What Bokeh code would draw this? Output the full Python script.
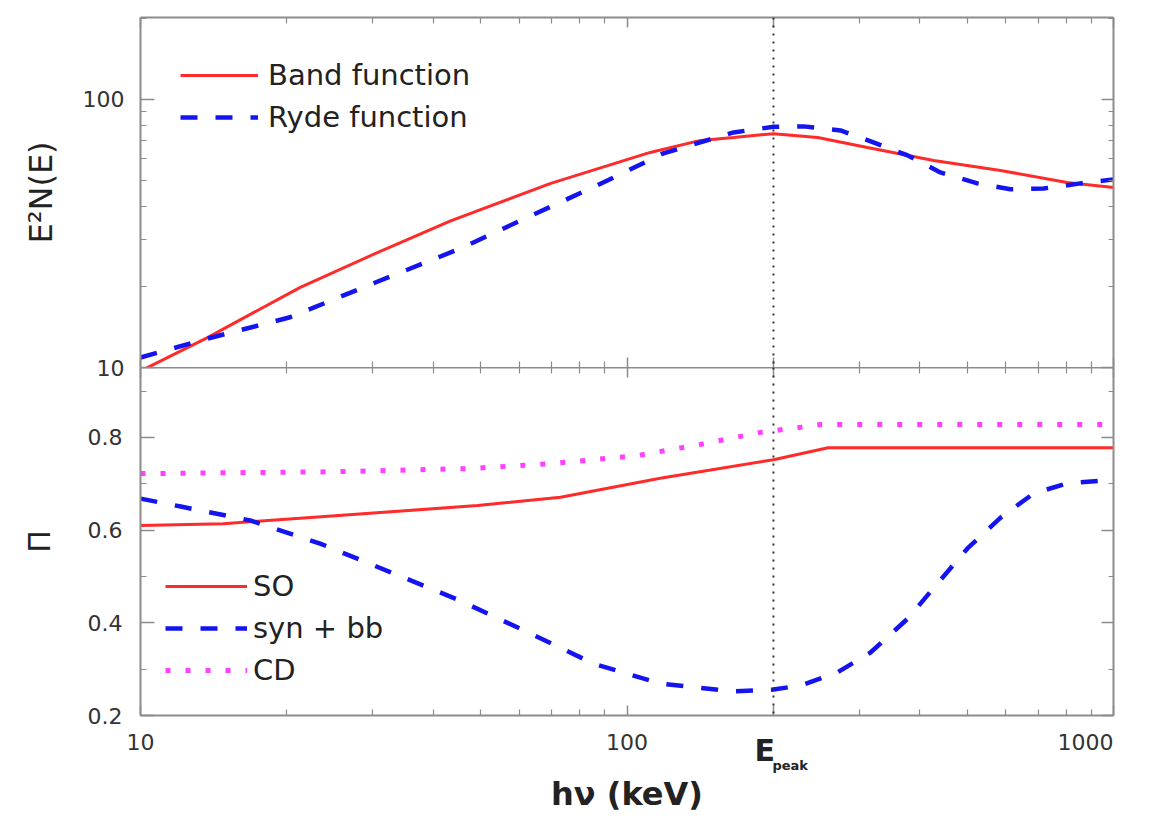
from bokeh.plotting import figure
from bokeh.models import Range1d, FixedTicker, LinearAxis, Span, Legend, LegendItem
from bokeh.core.properties import value
from bokeh.layouts import column
from bokeh.embed import file_html
from bokeh.resources import INLINE

# ---------------- data ----------------
band_x = [10, 13.7, 21.3, 30.1, 43.4, 69.7, 111.6, 141.6, 165.6, 200, 246.6, 312, 427, 586, 803, 1000]
band_y = [9.7, 12.9, 19.9, 26.4, 35.2, 48.6, 63.4, 70.3, 72.1, 74.5, 72.1, 66.2, 59.2, 54.3, 49.0, 46.9]

ryde_x = [10, 13.7, 20.3, 30.1, 45.5, 62.4, 86.9, 118.8, 165.6, 200, 230.7, 274.8, 321, 377.6, 440.6, 525, 614, 718, 855, 1000]
ryde_y = [10.9, 12.8, 15.4, 20.6, 27.8, 36.3, 47.8, 62.9, 75.3, 79.0, 79.3, 76.6, 69.1, 61.8, 53.4, 48.6, 46.2, 46.5, 48.6, 50.3]

so_x = [10, 14.8, 22, 49.3, 73, 117, 200, 259, 1000]
so_y = [0.610, 0.614, 0.627, 0.653, 0.671, 0.712, 0.752, 0.778, 0.778]

synbb_x = [10, 12.1, 16.8, 23.4, 32.7, 44.9, 62.4, 85.3, 117, 165.6, 200, 227.6, 270.8, 316.6, 377.6, 434.7, 501, 586, 684.8, 803, 1000]
synbb_y = [0.668, 0.651, 0.621, 0.571, 0.509, 0.450, 0.380, 0.312, 0.269, 0.252, 0.256, 0.265, 0.293, 0.336, 0.409, 0.485, 0.5605, 0.627, 0.679, 0.701, 0.709]

cd_x = [10, 25, 47.7, 70.6, 105, 141.6, 188, 227.6, 250, 1000]
cd_y = [0.722, 0.726, 0.733, 0.744, 0.761, 0.785, 0.811, 0.822, 0.828, 0.828]

E_PEAK = 200
x_major = [10, 100, 200, 1000]
x_minor = [20, 30, 40, 50, 60, 70, 80, 90, 300, 400, 500, 600, 700, 800, 900]
x_labels = {10: "10", 100: "100", 200: "", 1000: ""}
top_y_major = [10, 100]
top_y_minor = [20, 30, 40, 50, 60, 70, 80, 90, 200]
top_y_labels = {10: "10", 100: "100"}
bot_y_major = [0.2, 0.4, 0.6, 0.8]
bot_y_minor = [0.3, 0.5, 0.7, 0.9]

# ---------------- styles / layout ----------------
RED = "#ff2a2a"
BLUE = "#1414f0"
MAGENTA = "#ff40ff"
AXIS = "#8c8c8c"
TEXT = "#333333"
DARK = "#222222"
FONT = "DejaVu Sans"
W = 1149
LEFT, RIGHT = 140, 36
OVER = 14          # overlap between the two panel canvases
STRIP = 110        # height of the area under the lower panel

xr = Range1d(10, 1000)


def style_axis(ax, tick_in, minor_in, labels=True):
    ax.axis_line_color = AXIS
    ax.axis_line_width = 2
    ax.major_tick_line_color = AXIS
    ax.major_tick_line_width = 1.5
    ax.minor_tick_line_color = AXIS
    ax.minor_tick_line_width = 1.2
    ax.major_tick_in = tick_in
    ax.major_tick_out = 0
    ax.minor_tick_in = minor_in
    ax.minor_tick_out = 0
    if labels:
        ax.major_label_text_font = FONT
        ax.major_label_text_font_size = "22px"
        ax.major_label_text_color = TEXT
    else:
        ax.major_label_text_font_size = "0px"
        ax.major_label_text_color = None
        ax.major_label_standoff = 0
        ax.axis_label = None


# ---------------- top panel ----------------
p1 = figure(width=W, height=17 + 350 + OVER, x_axis_type="log", y_axis_type="log",
            x_range=xr, y_range=Range1d(10, 202),
            output_backend="svg", toolbar_location=None,
            min_border_left=LEFT, min_border_right=RIGHT, min_border_top=17, min_border_bottom=OVER)
p1.xgrid.visible = False
p1.ygrid.visible = False
p1.outline_line_color = None

p1.xaxis.ticker = FixedTicker(ticks=x_major, minor_ticks=x_minor)
style_axis(p1.xaxis[0], 10, 6, labels=False)
p1.xaxis.axis_line_color = None

p1.yaxis.ticker = FixedTicker(ticks=top_y_major, minor_ticks=top_y_minor)
style_axis(p1.yaxis[0], 14, 6)
p1.yaxis.major_label_overrides = top_y_labels
p1.yaxis.axis_label = "E²N(E)"
p1.yaxis.axis_label_text_font = FONT
p1.yaxis.axis_label_text_font_size = "32px"
p1.yaxis.axis_label_text_font_style = "normal"
p1.yaxis.axis_label_text_color = DARK
p1.yaxis.major_label_standoff = 16
p1.yaxis.axis_label_standoff = 20

ax = LinearAxis(ticker=FixedTicker(ticks=top_y_major, minor_ticks=top_y_minor))
style_axis(ax, 12, 5, labels=False)
p1.add_layout(ax, "right")
ax = LinearAxis(ticker=FixedTicker(ticks=x_major, minor_ticks=x_minor))
style_axis(ax, 10, 6, labels=False)
p1.add_layout(ax, "above")

r_band = p1.line(band_x, band_y, line_color=RED, line_width=3)
r_ryde = p1.line(ryde_x, ryde_y, line_color=BLUE, line_width=4.5, line_dash="17 18")
p1.add_layout(Span(location=E_PEAK, dimension="height", line_color="#333333",
                   line_width=2, line_dash="2 6"))

leg1 = Legend(items=[LegendItem(label="Band function", renderers=[r_band]),
                     LegendItem(label="Ryde function", renderers=[r_ryde])],
              location=(40, 229), padding=0, margin=0, spacing=0,
              glyph_width=78, glyph_height=42, label_height=42, label_standoff=10,
              label_text_font=FONT, label_text_font_size="29px", label_text_color=DARK,
              background_fill_alpha=0, border_line_color=None)
p1.add_layout(leg1)

# ---------------- bottom panel ----------------
p2 = figure(width=W, height=348 + STRIP, x_axis_type="log",
            x_range=xr, y_range=Range1d(0.2, 0.951),
            output_backend="svg", toolbar_location=None,
            min_border_left=LEFT, min_border_right=RIGHT, min_border_top=0, min_border_bottom=STRIP,
            margin=(-OVER, 0, 0, 0))
p2.xgrid.visible = False
p2.ygrid.visible = False
p2.outline_line_color = None
p2.border_fill_color = None
p2.background_fill_color = None

p2.xaxis.ticker = FixedTicker(ticks=x_major, minor_ticks=x_minor)
style_axis(p2.xaxis[0], 10, 6)
p2.xaxis.major_label_overrides = x_labels
p2.xaxis.major_label_standoff = 18
p2.xaxis.axis_label = "hν (keV)"
p2.xaxis.axis_label_text_font = FONT
p2.xaxis.axis_label_text_font_size = "32px"
p2.xaxis.axis_label_text_font_style = "bold"
p2.xaxis.axis_label_text_color = DARK
p2.xaxis.axis_label_standoff = 22

p2.yaxis.ticker = FixedTicker(ticks=bot_y_major, minor_ticks=bot_y_minor)
style_axis(p2.yaxis[0], 14, 6)
p2.yaxis.axis_label = "Π"
p2.yaxis.axis_label_text_font = FONT
p2.yaxis.axis_label_text_font_size = "30px"
p2.yaxis.axis_label_text_font_style = "normal"
p2.yaxis.axis_label_text_color = DARK
p2.yaxis.major_label_standoff = 18
p2.yaxis.axis_label_standoff = 28

ax = LinearAxis(ticker=FixedTicker(ticks=bot_y_major, minor_ticks=bot_y_minor))
style_axis(ax, 12, 5, labels=False)
p2.add_layout(ax, "right")
ax = LinearAxis(ticker=FixedTicker(ticks=x_major, minor_ticks=x_minor))
style_axis(ax, 10, 6, labels=False)
p2.add_layout(ax, "above")

r_so = p2.line(so_x, so_y, line_color=RED, line_width=3)
r_syn = p2.line(synbb_x, synbb_y, line_color=BLUE, line_width=4.5, line_dash="17 18")
r_cd = p2.line(cd_x, cd_y, line_color=MAGENTA, line_width=5, line_dash="5 15")
p2.add_layout(Span(location=E_PEAK, dimension="height", line_color="#333333",
                   line_width=2, line_dash="2 6"))

leg2 = Legend(items=[LegendItem(label="SO", renderers=[r_so]),
                     LegendItem(label="syn + bb", renderers=[r_syn]),
                     LegendItem(label="CD", renderers=[r_cd])],
              location=(25, 24), padding=0, margin=0, spacing=0,
              glyph_width=82, glyph_height=42, label_height=42, label_standoff=6,
              label_text_font=FONT, label_text_font_size="29px", label_text_color=DARK,
              background_fill_alpha=0, border_line_color=None)
p2.add_layout(leg2)

# ---------------- transparent strip over the lower border: E_peak and 1000 labels ----------------
p3 = figure(width=W, height=STRIP, x_axis_type="log", x_range=xr, y_range=Range1d(STRIP, 0),
            x_axis_location=None, y_axis_location=None,
            output_backend="svg", toolbar_location=None,
            min_border_left=LEFT, min_border_right=RIGHT, min_border_top=0, min_border_bottom=0,
            margin=(-STRIP, 0, 0, 0))
p3.xgrid.visible = False
p3.ygrid.visible = False
p3.outline_line_color = None
p3.border_fill_color = None
p3.background_fill_color = None

p3.text(x=[E_PEAK], y=[0], text=["E"], x_offset=-19, y_offset=17,
        text_font=value(FONT), text_font_size="30px", text_font_style="bold",
        text_color=DARK, text_align="left", text_baseline="top")
p3.text(x=[E_PEAK], y=[0], text=["peak"], x_offset=-1, y_offset=42,
        text_font=value(FONT), text_font_size="13px", text_font_style="bold",
        text_color=DARK, text_align="left", text_baseline="top")
p3.text(x=[xr.end], y=[0], text=["1000"], x_offset=0, y_offset=18,
        text_font=value(FONT), text_font_size="22px",
        text_color=TEXT, text_align="right", text_baseline="top")

layout = column(p1, p2, p3, spacing=0)
open("out.html", "w").write(file_html(layout, INLINE))
